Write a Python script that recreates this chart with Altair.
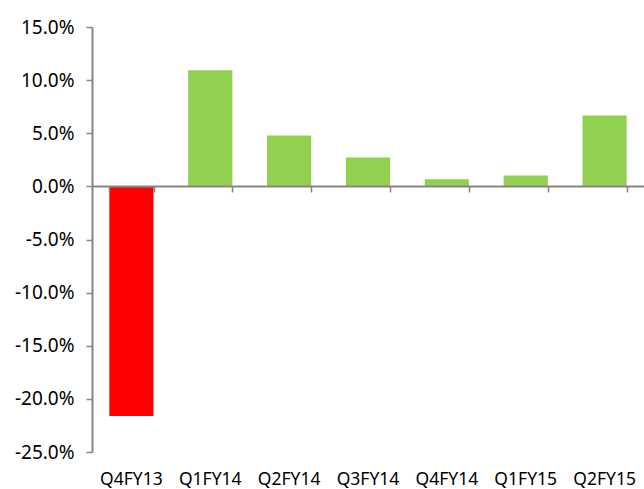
import altair as alt
import pandas as pd

quarters = ["Q4FY13", "Q1FY14", "Q2FY14", "Q3FY14", "Q4FY14", "Q1FY15", "Q2FY15"]
growth = [-0.216, 0.1093, 0.0479, 0.0272, 0.0066, 0.0103, 0.0667]
y_ticks = [-0.25, -0.20, -0.15, -0.10, -0.05, 0.0, 0.05, 0.10, 0.15]

df = pd.DataFrame({"quarter": quarters, "growth": growth})

AX = "#868686"
FONT = "Noto Sans"

x_scale = alt.Scale(paddingInner=0.44, paddingOuter=0.22)
y_scale = alt.Scale(domain=[-0.25, 0.15], nice=False)

bars = alt.Chart(df).mark_bar().encode(
    x=alt.X(
        "quarter:N", sort=quarters, scale=x_scale,
        axis=alt.Axis(title=None, domain=False, ticks=False, labelAngle=0,
                      labelPadding=18, labelFontSize=17.5, labelFont=FONT,
                      labelColor="#000000"),
    ),
    y=alt.Y(
        "growth:Q", scale=y_scale,
        axis=alt.Axis(values=y_ticks, title=None, grid=False,
                      labelExpr="(datum.value < 0 ? '-' : '') + format(abs(datum.value), '.1%')",
                      domainColor=AX, domainWidth=2, tickColor=AX, tickSize=6,
                      tickWidth=1.5, labelPadding=12, labelFontSize=19,
                      labelFont=FONT, labelColor="#000000"),
    ),
    color=alt.condition(alt.datum.growth < 0, alt.value("#FF0000"), alt.value("#92D050")),
)

zero_axis = alt.Chart(df).mark_point(opacity=0).encode(
    x=alt.X(
        "quarter:N", sort=quarters, scale=x_scale,
        axis=alt.Axis(orient="bottom", offset=-266, labels=False, title=None,
                      domainColor=AX, domainWidth=2, ticks=True, tickBand="extent",
                      tickColor=AX, tickSize=6, tickWidth=1.5, zindex=1),
    ),
    y=alt.Y("growth:Q", scale=y_scale, axis=None),
)

chart = (
    alt.layer(bars, zero_axis)
    .resolve_axis(x="independent", y="independent")
    .properties(
        width=552, height=425,
        autosize=alt.AutoSizeParams(type="none"),
        padding={"left": 92, "top": 27, "right": 0, "bottom": 37},
        background="white",
    )
    .configure_view(stroke=None)
)

chart.save("out.html", embed_options={"renderer": "svg", "actions": False})
